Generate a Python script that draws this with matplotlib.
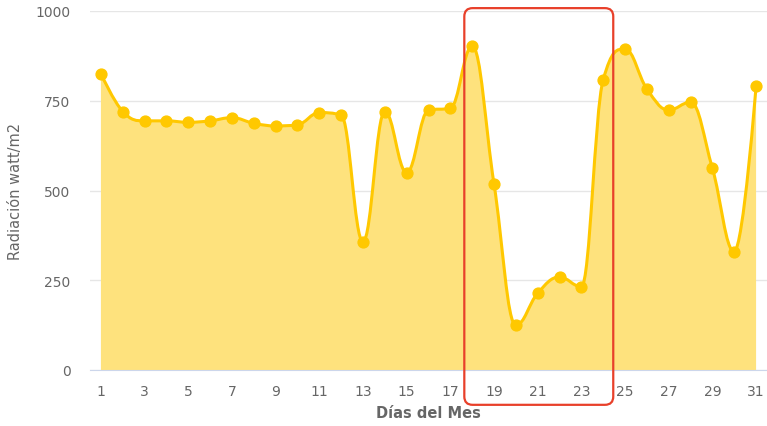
import numpy as np
import matplotlib.pyplot as plt
from matplotlib.path import Path
from matplotlib.patches import PathPatch, FancyBboxPatch

dias = list(range(1, 32))
radiacion = [825, 720, 694, 694, 690, 694, 703, 687, 680, 683,
             717, 710, 357, 720, 550, 724, 729, 902, 518, 125,
             214, 259, 232, 809, 894, 783, 724, 746, 562, 330, 791]
ticks_x = list(range(1, 32, 2))
ticks_y = [0, 250, 500, 750, 1000]

LINE = '#ffc800'
FILL = '#fee27d'
GRAY = '#666666'


def spline_path(xs, ys, smoothing=1.5):
    # highcharts-like spline: cubic bezier through every point
    n = len(xs)
    left = [(xs[0], ys[0])] * n
    right = [(xs[0], ys[0])] * n
    denom = smoothing + 1
    for i in range(n):
        px, py = xs[i], ys[i]
        if i == 0 or i == n - 1:
            left[i] = right[i] = (px, py)
            continue
        lx, ly = xs[i - 1], ys[i - 1]
        nx, ny = xs[i + 1], ys[i + 1]
        lcx = (smoothing * px + lx) / denom
        lcy = (smoothing * py + ly) / denom
        rcx = (smoothing * px + nx) / denom
        rcy = (smoothing * py + ny) / denom
        corr = (rcy - lcy) * (rcx - px) / (rcx - lcx) + py - rcy
        lcy += corr
        rcy += corr
        if lcy > ly and lcy > py:
            lcy = max(ly, py); rcy = 2 * py - lcy
        elif lcy < ly and lcy < py:
            lcy = min(ly, py); rcy = 2 * py - lcy
        if rcy > ny and rcy > py:
            rcy = max(ny, py); lcy = 2 * py - rcy
        elif rcy < ny and rcy < py:
            rcy = min(ny, py); lcy = 2 * py - rcy
        left[i] = (lcx, lcy)
        right[i] = (rcx, rcy)
    verts = [(xs[0], ys[0])]
    codes = [Path.MOVETO]
    for i in range(1, n):
        verts += [right[i - 1], left[i], (xs[i], ys[i])]
        codes += [Path.CURVE4] * 3
    return verts, codes


fig = plt.figure(figsize=(7.67, 4.27), dpi=100)
ax = fig.add_axes([90 / 767, 56 / 427, 677 / 767, 359 / 427])

verts, codes = spline_path(dias, radiacion)
area_v = verts + [(dias[-1], 0), (dias[0], 0), (dias[0], radiacion[0])]
area_c = codes + [Path.LINETO, Path.LINETO, Path.CLOSEPOLY]
ax.add_patch(PathPatch(Path(area_v, area_c), facecolor=FILL, edgecolor='none', zorder=2))
ax.add_patch(PathPatch(Path(verts, codes), facecolor='none', edgecolor=LINE, lw=2.2, zorder=3))
ax.plot(dias, radiacion, 'o', color=LINE, ms=7.8, zorder=4)

ax.set_xlim(0.5, 31.5)
ax.set_ylim(0, 1000)
ax.set_xticks(ticks_x)
ax.set_yticks(ticks_y)
ax.grid(axis='y', color='#e6e6e6', lw=1, zorder=1)
ax.set_axisbelow(True)
for s in ['top', 'right', 'left']:
    ax.spines[s].set_visible(False)
ax.spines['bottom'].set_color('#ccd6eb')
ax.spines['bottom'].set_zorder(5)
ax.tick_params(axis='both', length=0, labelsize=10, labelcolor=GRAY)
ax.tick_params(axis='x', pad=10)
ax.tick_params(axis='y', pad=14)
ax.set_xlabel('Días del Mes', fontsize=10.5, color=GRAY, fontweight='bold', labelpad=5)
ax.set_ylabel('Radiación watt/m2', fontsize=10.5, color=GRAY, labelpad=9)

# red highlight box (days 18-23)
box = FancyBboxPatch((17.64, -97), 24.46 - 17.64, 1008 + 97,
                     boxstyle='round,pad=0,rounding_size=0.38',
                     mutation_aspect=61,
                     facecolor='none', edgecolor='#e8402a', lw=1.6,
                     transform=ax.transData, clip_on=False, zorder=6)
ax.add_patch(box)

fig.savefig('out.png', dpi=100)
